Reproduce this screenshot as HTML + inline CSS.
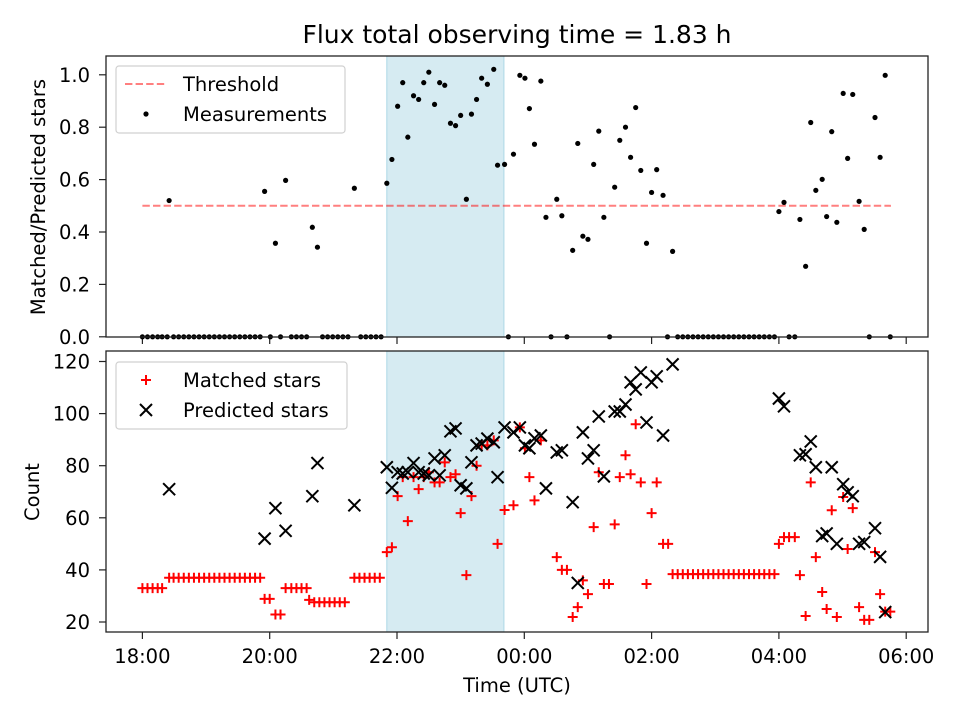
<!DOCTYPE html>
<html><head><meta charset="utf-8"><style>
body{margin:0;background:#fff}
svg{display:block;font-family:"DejaVu Sans","Liberation Sans",sans-serif;fill:#000}
</style></head><body>
<svg id="chart" width="960" height="720" viewBox="0 0 960 720" xmlns="http://www.w3.org/2000/svg">
<text x="517" y="43" font-size="25" text-anchor="middle">Flux total observing time = 1.83 h</text>
<g id="topPanel"></g>
<g id="botPanel"></g>
<text transform="translate(45,197) rotate(-90)" font-size="19.5" text-anchor="middle">Matched/Predicted stars</text>
<text transform="translate(39,492) rotate(-90)" font-size="19.5" text-anchor="middle">Count</text>
<text x="517" y="692" font-size="19.5" text-anchor="middle">Time (UTC)</text>
</svg>
<script>
// hours since 18:00
const ratioTimes=[0.42,1.92,2.09,2.25,2.67,2.75,3.33,3.84,3.92,4.01,4.09,4.17,4.26,4.34,4.42,4.50,4.59,4.67,4.75,4.84,4.92,5.00,5.09,5.17,5.25,5.33,5.42,5.52,5.58,5.69,5.83,5.93,6.01,6.08,6.16,6.26,6.34,6.51,6.59,6.76,6.84,6.92,7.00,7.09,7.17,7.25,7.42,7.50,7.59,7.67,7.75,7.83,7.92,8.00,8.08,8.18,8.33,10.0,10.08,10.33,10.42,10.50,10.58,10.68,10.75,10.83,10.91,11.01,11.08,11.16,11.26,11.34,11.51,11.59,11.67];
const ratioValues=[0.52,0.555,0.357,0.597,0.418,0.342,0.567,0.586,0.677,0.88,0.97,0.762,0.92,0.906,0.97,1.01,0.887,0.97,0.96,0.815,0.806,0.845,0.525,0.85,0.906,0.987,0.964,1.021,0.655,0.658,0.697,0.998,0.987,0.871,0.735,0.976,0.456,0.525,0.462,0.33,0.738,0.384,0.372,0.658,0.785,0.456,0.571,0.75,0.8,0.685,0.875,0.635,0.357,0.551,0.638,0.54,0.326,0.478,0.513,0.448,0.269,0.818,0.559,0.601,0.459,0.783,0.437,0.929,0.681,0.925,0.517,0.41,0.837,0.685,0.998];
const zeroTimes=[0,0.08,0.16,0.24,0.31,0.39,0.49,0.57,0.65,0.73,0.81,0.89,0.97,1.05,1.13,1.21,1.29,1.37,1.45,1.53,1.61,1.69,1.77,1.85,2.01,2.17,2.34,2.42,2.50,2.58,2.83,2.91,2.99,3.07,3.15,3.23,3.43,3.51,3.59,3.67,3.75,5.75,6.42,6.67,7.34,8.25,8.41,8.49,8.57,8.65,8.73,8.81,8.89,8.97,9.05,9.13,9.21,9.29,9.37,9.45,9.53,9.61,9.69,9.77,9.85,9.93,10.16,10.25,11.42,11.75];
const predTimes=[0.42,1.92,2.09,2.25,2.67,2.75,3.33,3.84,3.92,4.01,4.09,4.17,4.26,4.34,4.42,4.50,4.59,4.67,4.75,4.84,4.92,5.00,5.09,5.17,5.25,5.33,5.42,5.52,5.58,5.69,5.83,5.93,6.01,6.08,6.16,6.26,6.34,6.51,6.59,6.76,6.84,6.92,7.00,7.09,7.17,7.25,7.42,7.50,7.59,7.67,7.75,7.83,7.92,8.00,8.08,8.18,8.33,10.0,10.08,10.33,10.42,10.50,10.58,10.68,10.75,10.83,10.91,11.01,11.08,11.16,11.26,11.34,11.51,11.59,11.67];
const predValues=[71,52,63.7,55,68.3,81,64.8,79.4,71.5,77.5,77,77.5,81,77.5,77,76.3,82.8,76.3,84,93.2,94.3,72.5,71.3,81.3,87.8,88.5,90.4,89,75.6,94.7,92.8,94.7,87.8,86.7,90.5,91.6,71.3,85.1,85.9,66,35,92.8,82.8,85.9,98.9,75.9,100.8,100.8,103.5,112,109.3,115.8,96.6,112,114.3,91.6,118.9,105.8,102.8,84,84.4,89.3,79.4,53,54,79.4,50,72.9,69.8,68.3,50,50.7,56,45,23.8];
const matchTimes=[0,0.08,0.16,0.24,0.31,0.42,0.49,0.57,0.65,0.73,0.81,0.89,0.97,1.05,1.13,1.21,1.29,1.37,1.45,1.53,1.61,1.69,1.77,1.85,1.92,2.00,2.09,2.17,2.25,2.34,2.42,2.50,2.58,2.62,2.70,2.78,2.86,2.94,3.02,3.10,3.18,3.33,3.41,3.49,3.57,3.65,3.73,3.84,3.92,4.01,4.09,4.17,4.26,4.34,4.42,4.50,4.59,4.67,4.75,4.84,4.92,5.00,5.09,5.17,5.25,5.33,5.42,5.52,5.58,5.69,5.83,5.93,6.01,6.08,6.16,6.26,6.51,6.59,6.67,6.76,6.84,6.92,7.00,7.09,7.17,7.25,7.33,7.42,7.50,7.59,7.67,7.75,7.83,7.92,8.00,8.08,8.18,8.26,8.33,8.41,8.49,8.57,8.65,8.73,8.81,8.89,8.97,9.05,9.13,9.21,9.29,9.37,9.45,9.53,9.61,9.69,9.77,9.85,9.93,10.0,10.08,10.16,10.25,10.33,10.42,10.50,10.58,10.68,10.75,10.83,10.91,11.01,11.08,11.16,11.26,11.34,11.42,11.51,11.59,11.67,11.75];
const matchValues=[33,33,33,33,33,37,37,37,37,37,37,37,37,37,37,37,37,37,37,37,37,37,37,37,28.9,28.9,22.9,22.9,33,33,33,33,33,28.5,27.6,27.6,27.6,27.6,27.6,27.6,27.6,37,37,37,37,37,37,46.8,48.7,68.3,75.6,58.7,75.6,71,75.6,77.5,73.6,73.6,81.3,75.6,76.7,61.8,38,68.3,80,87.8,87.8,89.7,50,63,64.8,94.7,86.7,75.6,66.7,89.7,44.9,40,40,21.9,25.7,36,30.7,56.4,77.5,34.6,34.6,57.5,75.6,84,76.7,95.9,73.6,34.6,61.8,73.6,50,50,38.4,38.4,38.4,38.4,38.4,38.4,38.4,38.4,38.4,38.4,38.4,38.4,38.4,38.4,38.4,38.4,38.4,38.4,38.4,38.4,38.4,50,52.6,52.6,52.6,38,22.3,73.6,44.9,31.5,25,62.9,21.9,68,48,63.7,25.7,20.8,20.8,46.8,30.7,24,24];
const xTickHours=[0,2,4,6,8,10,12];
const xTickLabels=["18:00","20:00","22:00","00:00","02:00","04:00","06:00"];
const topTicks=[0,0.2,0.4,0.6,0.8,1.0];
const botTicks=[20,40,60,80,100,120];
const shadeStart=3.84, shadeEnd=5.68, threshold=0.5, thrStart=0, thrEnd=11.76;

const NS="http://www.w3.org/2000/svg";
const L=106,R=928,FS=19.5;
const xS=h=>142.4+h*63.65;
const yTop=v=>336.8-v*262;
const yBot=c=>622-(c-20)*2.605;
function mk(p,tag,at){const e=document.createElementNS(NS,tag);for(const k in at)e.setAttribute(k,at[k]);p.appendChild(e);return e;}
const topG=document.getElementById('topPanel'),botG=document.getElementById('botPanel');

function panel(g,y0,y1,ticks,yf,fmt,name){
  const s=mk(g,'rect',{x:xS(shadeStart),y:y0,width:xS(shadeEnd)-xS(shadeStart),height:y1-y0,fill:'#add8e6','fill-opacity':0.5,stroke:'#add8e6','stroke-width':1});
  
  
  ticks.forEach(t=>{const y=yf(t);
    const tk=mk(g,'line',{x1:L-7,x2:L,y1:y,y2:y,stroke:'#222','stroke-width':1.2});
    
    
    const tx=mk(g,'text',{x:L-16,y:y+7,'font-size':FS,'text-anchor':'end'});tx.textContent=fmt(t);
    
    });
  xTickHours.forEach((h,i)=>{const x=xS(h);
    const tk=mk(g,'line',{x1:x,x2:x,y1:y1,y2:y1+7,stroke:'#222','stroke-width':1.2});
    
    
    if(name==='bottom'){const tx=mk(g,'text',{x:x,y:y1+31,'font-size':FS,'text-anchor':'middle'});tx.textContent=xTickLabels[i];
      
      }});
}
panel(topG,56,337,topTicks,yTop,v=>v.toFixed(1),'top');
panel(botG,351,632,botTicks,yBot,v=>String(v),'bottom');

const th=mk(topG,'line',{x1:xS(thrStart),x2:xS(thrEnd),y1:yTop(threshold),y2:yTop(threshold),stroke:'#ff0000','stroke-opacity':0.5,'stroke-width':2,'stroke-dasharray':'7.4,3.2'});


function dot(g,x,y){const c=mk(g,'circle',{cx:x,cy:y,r:2.6,fill:'#000'});
  
  }
zeroTimes.forEach(t=>dot(topG,xS(t),yTop(0)));
ratioTimes.forEach((t,i)=>dot(topG,xS(t),yTop(ratioValues[i])));

function plus(g,x,y){const p=mk(g,'path',{d:`M${x-5},${y}H${x+5}M${x},${y-5}V${y+5}`,stroke:'#ff0000','stroke-width':2});
  
  }
function cross(g,x,y){const p=mk(g,'path',{d:`M${x-6},${y-6}L${x+6},${y+6}M${x-6},${y+6}L${x+6},${y-6}`,stroke:'#000','stroke-width':2});
  
  }
matchTimes.forEach((t,i)=>plus(botG,xS(t),yBot(matchValues[i])));
predTimes.forEach((t,i)=>cross(botG,xS(t),yBot(predValues[i])));

[[topG,56,337],[botG,351,632]].forEach(([g,a,b],i)=>{const f=mk(g,'rect',{x:L,y:a,width:R-L,height:b-a,fill:'none',stroke:'#222','stroke-width':1.3});
  
  });

function legend(g,y0,w,items){const lg=mk(g,'g',{});
  
  
  mk(lg,'rect',{x:116,y:y0,width:w,height:67,rx:3,fill:'#fff','fill-opacity':0.8,stroke:'#d0d0d0','stroke-width':1.2});
  items.forEach((it,i)=>{const cy=y0+18+i*30;it.draw(lg,146,cy);
    const t=mk(lg,'text',{x:183,y:cy+7,'font-size':FS});t.textContent=it.label;
    
    });}
legend(topG,66,229,[{label:'Threshold',draw:(g,x,y)=>mk(g,'line',{x1:x-21,x2:x+21,y1:y,y2:y,stroke:'#ff0000','stroke-opacity':0.5,'stroke-width':2,'stroke-dasharray':'7.4,3.2'})},
 {label:'Measurements',draw:(g,x,y)=>mk(g,'circle',{cx:x,cy:y,r:2.6,fill:'#000'})}]);
legend(botG,362,231,[{label:'Matched stars',draw:(g,x,y)=>mk(g,'path',{d:`M${x-5},${y}H${x+5}M${x},${y-5}V${y+5}`,stroke:'#f00','stroke-width':2})},
 {label:'Predicted stars',draw:(g,x,y)=>mk(g,'path',{d:`M${x-6},${y-6}L${x+6},${y+6}M${x-6},${y+6}L${x+6},${y-6}`,stroke:'#000','stroke-width':2})}]);
</script>
</body></html>
